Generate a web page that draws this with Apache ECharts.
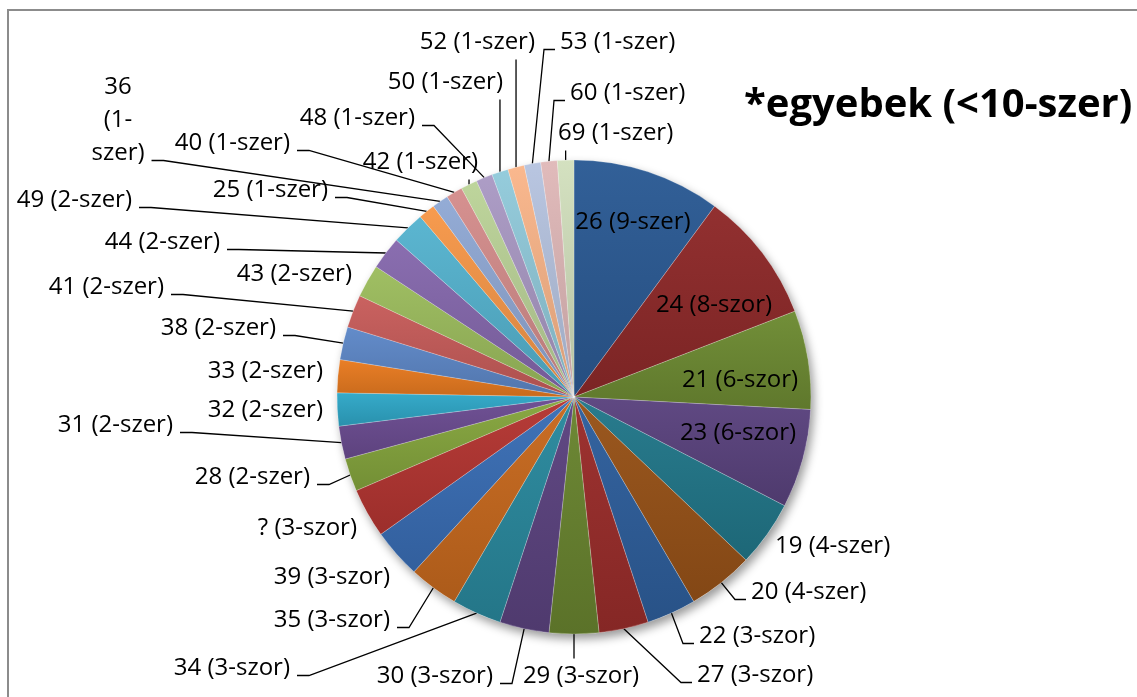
<!DOCTYPE html>
<html>
<head>
<meta charset="utf-8">
<script src="https://cdn.jsdelivr.net/npm/echarts@6/dist/echarts.min.js"></script>
<style>
html, body { margin: 0; padding: 0; background: #fff; }
#main { width: 1137px; height: 697px; }
</style>
</head>
<body>
<div id="main"></div>
<script>
// ages, clockwise from 12 o'clock
var categories = ["26", "24", "21", "23", "19", "20", "22", "27", "29", "30", "34",
  "35", "39", "?", "28", "31", "32", "33", "38", "41", "43", "44", "49",
  "25", "36", "40", "42", "48", "50", "52", "53", "60", "69"];
// how many times
var counts = [9, 8, 6, 6, 4, 4, 3, 3, 3, 3, 3,
  3, 3, 3, 2, 2, 2, 2, 2, 2, 2, 2, 2,
  1, 1, 1, 1, 1, 1, 1, 1, 1, 1];

// -szor / -szer
var suffix = { 1: "szer", 2: "szer", 3: "szor", 4: "szer", 6: "szor", 8: "szor", 9: "szer" };

var colors = [
  "#2c5b95", "#8f2a2a", "#6e8c33", "#5b437f", "#22788a", "#985318",
  "#2f5f9d", "#9b2d2b", "#6a8530", "#5c4380", "#2a899e", "#c86a1e",
  "#3a6fb6", "#b53632", "#86a63e", "#6c4d92", "#30a8c8", "#e97b20",
  "#5e88c8", "#c85d5b", "#9dbd5e", "#8669ae", "#56b4d0", "#f7984a",
  "#91a9d5", "#d58e8d", "#bcd499", "#aa9ac4", "#92cadb", "#fab68a",
  "#b7c4e0", "#e0b9b9", "#d3e0be"
];

// where each label sits (like excel's "best fit"): x, y, align, leader kind
var labelPos = [
  [633, 222, "center", "none"], [714, 305, "center", "none"],
  [740, 380, "center", "none"], [738, 433, "center", "none"],
  [775, 546, "left", "none"], [751, 592, "left", "side"],
  [699, 636, "left", "side"], [697, 675, "left", "side"],
  [581, 676, "center", "vert"], [493, 676, "right", "side"],
  [290, 668, "right", "side"], [390, 620, "right", "side"],
  [390, 577, "right", "none"], [357, 528, "right", "none"],
  [310, 477, "right", "side"], [173, 425, "right", "side"],
  [323, 410, "right", "none"], [323, 371, "right", "none"],
  [276, 328, "right", "side"], [164, 287, "right", "side"],
  [352, 274, "right", "none"], [220, 242, "right", "side"],
  [132, 200, "right", "side"], [328, 190, "right", "side"],
  [118, 120, "center", "side"], [290, 143, "right", "side"],
  [478, 162, "right", "vert"], [415, 118, "right", "side"],
  [503, 82, "right", "vert"], [535, 42, "right", "vert"],
  [560, 42, "left", "side"], [570, 93, "left", "side"],
  [558, 133, "left", "vert"]
];

function shade(hex, amt) {
  var n = parseInt(hex.slice(1), 16);
  var r = (n >> 16) & 255, g = (n >> 8) & 255, b = n & 255;
  function f(c) {
    c = amt > 0 ? c + (255 - c) * amt : c * (1 + amt);
    return Math.round(Math.max(0, Math.min(255, c)));
  }
  return "rgb(" + f(r) + "," + f(g) + "," + f(b) + ")";
}

function labelText(name, cnt) {
  if (name === "36") return "36\n(1-\nszer)";
  return name + " (" + cnt + "-" + suffix[cnt] + ")";
}

var pieData = categories.map(function (c, i) {
  var kind = labelPos[i][3];
  return {
    name: c,
    value: counts[i],
    label: { position: i < 4 ? "inside" : "outside" },
    labelLine: { show: kind !== "none" },
    itemStyle: {
      color: {
        type: "linear", x: 0, y: 0, x2: 0, y2: 1,
        colorStops: [
          { offset: 0, color: shade(colors[i], 0.03) },
          { offset: 1, color: shade(colors[i], -0.14) }
        ]
      }
    }
  };
});

function placeLabel(p) {
  var pos = labelPos[p.dataIndex];
  var x = pos[0], y = pos[1], align = pos[2], kind = pos[3];
  var w = p.labelRect.width, h = p.labelRect.height;
  var out = { x: x, y: y, align: align, verticalAlign: "middle", hideOverlap: false };
  var pts = p.labelLinePoints;
  if (kind === "none" || !pts) return out;
  var edge = pts[0];
  if (kind === "vert") {
    var ey = y < edge[1] ? y + h / 2 + 1 : y - h / 2 - 1;
    out.labelLinePoints = [edge, [edge[0], ey], [edge[0], ey]];
  } else {
    var ty = y + h / 2 - 9;
    if (align === "left") {
      out.labelLinePoints = [edge, [x - 16, ty], [x - 5, ty]];
    } else {
      var right = align === "center" ? x + w / 2 : x;
      out.labelLinePoints = [edge, [right + 19, ty], [right + 7, ty]];
    }
  }
  return out;
}

var myChart = echarts.init(document.getElementById("main"));

myChart.setOption({
  animation: false,
  textStyle: { fontFamily: "Open Sans" },
  title: {
    text: "*egyebek (<10-szer)",
    left: 739,
    top: 81,
    textStyle: { fontFamily: "Open Sans", fontWeight: "bold", fontSize: 40, color: "#000" }
  },
  graphic: [{
    type: "rect",
    shape: { x: 8, y: 10, width: 1200, height: 800 },
    style: { fill: "none", stroke: "#8c8c8c", lineWidth: 2 },
    silent: true
  }],
  series: [
    {
      // shadow disc under the pie
      type: "pie",
      silent: true,
      center: [574, 397],
      radius: 237,
      z: 1,
      label: { show: false },
      labelLine: { show: false },
      itemStyle: {
        color: "#fff",
        shadowBlur: 10,
        shadowOffsetX: 3,
        shadowOffsetY: 5,
        shadowColor: "rgba(0,0,0,0.4)"
      },
      data: [{ value: 1, name: "" }]
    },
    {
      type: "pie",
      center: [574, 397],
      radius: 237,
      startAngle: 90,
      clockwise: true,
      z: 2,
      minShowLabelAngle: 0,
      avoidLabelOverlap: false,
      itemStyle: { borderColor: "rgba(255,255,255,0.35)", borderWidth: 0.6 },
      label: {
        color: "#000",
        fontFamily: "Open Sans",
        fontSize: 24,
        lineHeight: 33,
        overflow: "none",
        formatter: function (p) { return labelText(p.name, p.value); }
      },
      labelLine: {
        length: 10,
        length2: 10,
        lineStyle: { color: "#000", width: 1.3 }
      },
      labelLayout: placeLabel,
      data: pieData
    }
  ]
});
</script>
</body>
</html>
